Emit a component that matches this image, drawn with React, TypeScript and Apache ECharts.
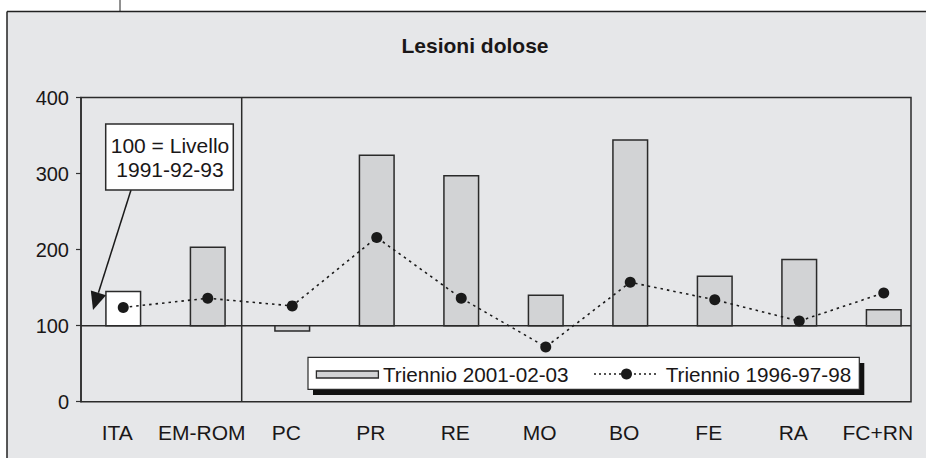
import React, { useEffect, useRef } from "react";
import * as echarts from "echarts";

const categories = ["ITA", "EM-ROM", "PC", "PR", "RE", "MO", "BO", "FE", "RA", "FC+RN"];
const triennio2001 = [145, 203, 93, 324, 297, 140, 344, 165, 187, 121];
const triennio1996 = [124, 136, 126, 216, 136, 72, 157, 134, 106, 143];
const seriesNames = ["Triennio 2001-02-03", "Triennio 1996-97-98"];
const yTicks = [0, 100, 200, 300, 400];
const titleText = "Lesioni dolose";
const noteLines = ["100 = Livello", "1991-92-93"];
const baseValue = 100;

const FONT = "'Liberation Sans', Arial, sans-serif";
const INK = "#1a1718";
const BG = "#e6e7e9";
const BAR = "#d2d3d5";

export default function App() {
  const ref = useRef<HTMLDivElement>(null);
  useEffect(() => {
    if (!ref.current) return;
    const chart = echarts.init(ref.current, null, { renderer: "svg" });
    const option: any = {
      animation: false,
      backgroundColor: "#ffffff",
      title: {
        text: titleText,
        left: 470,
        top: 30,
        textAlign: "center",
        textStyle: { fontFamily: FONT, fontSize: 21, fontWeight: "bold", color: INK },
      },
      grid: { left: 81, top: 97.5, width: 846, height: 304.2 },
      xAxis: {
        type: "category",
        data: categories,
        axisLine: { show: false },
        axisTick: { show: false },
        axisLabel: {
          margin: 20,
          fontFamily: FONT,
          fontSize: 21,
          color: INK,
          padding: [0, 12, 0, 0],
          interval: 0,
        },
      },
      yAxis: {
        type: "value",
        min: yTicks[0],
        max: yTicks[yTicks.length - 1],
        interval: 100,
        splitLine: { show: false },
        axisLine: { show: true, lineStyle: { color: "#333", width: 1.5 } },
        axisTick: { show: true, length: 5, lineStyle: { color: "#333", width: 1.2 } },
        axisLabel: { margin: 12, fontFamily: FONT, fontSize: 20, color: INK },
      },
      series: [
        {
          name: seriesNames[0],
          type: "custom",
          z: 3,
          data: categories.map((c, i) => [i, triennio2001[i]]),
          encode: { x: 0, y: 1 },
          renderItem: (params: any, api: any) => {
            const xi = api.value(0);
            const v = api.value(1);
            const p0 = api.coord([xi, baseValue]);
            const p1 = api.coord([xi, v]);
            const w = api.size([1, 0])[0] * 0.41;
            return {
              type: "rect",
              shape: {
                x: p0[0] - w / 2,
                y: Math.min(p0[1], p1[1]),
                width: w,
                height: Math.abs(p1[1] - p0[1]),
              },
              style: { fill: xi === 0 ? "#ffffff" : BAR, stroke: "#2a2a2a", lineWidth: 1.5 },
            };
          },
        },
        {
          name: seriesNames[1],
          type: "line",
          z: 5,
          data: triennio1996,
          symbol: "circle",
          symbolSize: 11,
          itemStyle: { color: "#1a1a1a" },
          lineStyle: { color: "#1a1a1a", width: 1.6, type: [2.5, 4] },
        },
      ],
    };
    chart.setOption(option);

    const yTop = chart.convertToPixel({ yAxisIndex: 0 }, 400) as number;
    const yBot = chart.convertToPixel({ yAxisIndex: 0 }, 0) as number;
    const yBase = chart.convertToPixel({ yAxisIndex: 0 }, baseValue) as number;
    const xL = 81;
    const xR = 911;
    const lineSt = { stroke: "#2b2b2b", lineWidth: 1.5 };

    const tip = [93, 310];
    const from = [131, 190];
    const dx = tip[0] - from[0];
    const dy = tip[1] - from[1];
    const len = Math.sqrt(dx * dx + dy * dy);
    const ux = dx / len;
    const uy = dy / len;
    const bc = [tip[0] - 18 * ux, tip[1] - 18 * uy];
    const px = -uy;
    const py = ux;

    chart.setOption({
      graphic: [
        { type: "rect", z: -10, shape: { x: 7, y: 11.5, width: 930, height: 460 }, style: { fill: BG } },
        { type: "line", z: -9, shape: { x1: 7, y1: 11.5, x2: 926, y2: 11.5 }, style: { stroke: "#222", lineWidth: 1.5 } },
        { type: "line", z: -9, shape: { x1: 7, y1: 11.5, x2: 7, y2: 458 }, style: { stroke: "#222", lineWidth: 1.5 } },
        { type: "line", z: -9, shape: { x1: 120, y1: 0, x2: 120, y2: 11.5 }, style: { stroke: "#222", lineWidth: 1 } },
        { type: "rect", z: 1, shape: { x: xL, y: yTop, width: xR - xL, height: yBot - yTop }, style: { fill: "none", ...lineSt } },
        { type: "line", z: 1, shape: { x1: xL, y1: yBase, x2: xR, y2: yBase }, style: lineSt },
        { type: "line", z: 1, shape: { x1: 241.7, y1: yTop, x2: 241.7, y2: yBot }, style: lineSt },
        { type: "line", z: 10, shape: { x1: from[0], y1: from[1], x2: bc[0], y2: bc[1] }, style: { stroke: "#1a1a1a", lineWidth: 1.5 } },
        {
          type: "polygon",
          z: 10,
          shape: { points: [tip, [bc[0] + 8 * px, bc[1] + 8 * py], [bc[0] - 8 * px, bc[1] - 8 * py]] },
          style: { fill: "#1a1a1a" },
        },
        { type: "rect", z: 10, shape: { x: 105.7, y: 124, width: 127.6, height: 66 }, style: { fill: "#fff", stroke: "#2b2b2b", lineWidth: 1.5 } },
        { type: "text", z: 11, x: 170, y: 145, style: { text: noteLines[0], fontFamily: FONT, fontSize: 21, fill: INK, align: "center", verticalAlign: "middle" } },
        { type: "text", z: 11, x: 170, y: 169, style: { text: noteLines[1], fontFamily: FONT, fontSize: 21, fill: INK, align: "center", verticalAlign: "middle" } },
        { type: "rect", z: 10, shape: { x: 313, y: 363, width: 551.3, height: 32 }, style: { fill: "#111" } },
        { type: "rect", z: 11, shape: { x: 308, y: 357.3, width: 551.3, height: 32 }, style: { fill: "#fff", stroke: "#2b2b2b", lineWidth: 1.2 } },
        { type: "rect", z: 12, shape: { x: 316.4, y: 371, width: 62, height: 7 }, style: { fill: BAR, stroke: "#2b2b2b", lineWidth: 1.3 } },
        { type: "text", z: 12, x: 383, y: 374, style: { text: seriesNames[0], fontFamily: FONT, fontSize: 20.7, fill: INK, align: "left", verticalAlign: "middle" } },
        { type: "line", z: 12, shape: { x1: 594, y1: 374, x2: 659, y2: 374 }, style: { stroke: "#1a1a1a", lineWidth: 1.5, lineDash: [2, 3] } },
        { type: "circle", z: 13, shape: { cx: 626.5, cy: 374, r: 5.5 }, style: { fill: "#1a1a1a" } },
        { type: "text", z: 12, x: 665.7, y: 374, style: { text: seriesNames[1], fontFamily: FONT, fontSize: 20.7, fill: INK, align: "left", verticalAlign: "middle" } },
      ],
    });

    return () => chart.dispose();
  }, []);
  return (
    <div
      ref={ref}
      style={{ position: "fixed", left: 0, top: 0, width: 926, height: 458 }}
    />
  );
}
